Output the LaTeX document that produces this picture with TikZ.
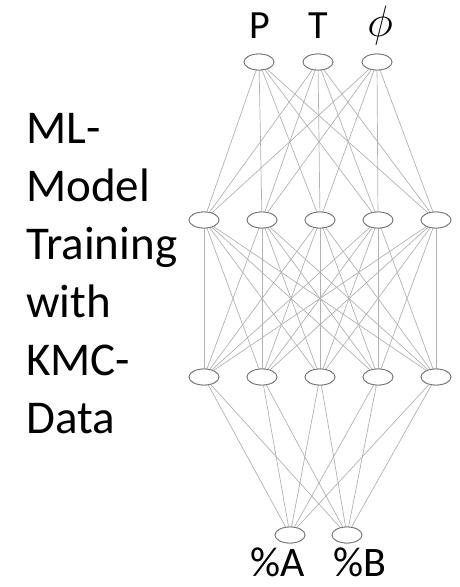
\RequirePackage{fix-cm}
\documentclass[tikz,border=0pt]{standalone}
\usepackage{fontspec}
\setmainfont{Carlito}
\usetikzlibrary{shapes.geometric}
\begin{document}
\begin{tikzpicture}[x=1pt,y=-1pt,
  neuron/.style={ellipse,draw=black!55,line width=0.8pt,fill=white,minimum width=30pt,minimum height=16pt,inner sep=0pt},
  synapse/.style={draw=black!30,line width=0.7pt},
  lbl/.style={font=\fontsize{40}{40}\selectfont,inner sep=0pt,anchor=base},
  side/.style={font=\fontsize{47}{58}\selectfont,inner sep=0pt,anchor=base west}]
\useasboundingbox (0,0) rectangle (460,587);

% input layer
\node[neuron] (i1) at (259,62) {};
\node[neuron] (i2) at (318,62) {};
\node[neuron] (i3) at (377,62) {};
% hidden layers
\foreach \k/\x in {1/204,2/262,3/320,4/378,5/436}{
  \node[neuron] (a\k) at (\x,220) {};
  \node[neuron] (b\k) at (\x,377) {};
}
% output layer
\node[neuron] (o1) at (290,535) {};
\node[neuron] (o2) at (347,535) {};

% connections between consecutive layers
\foreach \i in {1,2,3}{\foreach \j in {1,...,5}{\draw[synapse] (i\i) -- (a\j);}}
\foreach \i in {1,...,5}{\foreach \j in {1,...,5}{\draw[synapse] (a\i) -- (b\j);}}
\foreach \i in {1,...,5}{\foreach \j in {1,2}{\draw[synapse] (b\i) -- (o\j);}}

% redraw neurons above the lines
\foreach \n in {i1,i2,i3,a1,a2,a3,a4,a5,b1,b2,b3,b4,b5,o1,o2}{
  \node[neuron] at (\n.center) {};
}

% labels
\node[lbl] (lp) at (260,38) {P};
\node[lbl] (lt) at (318,38) {T};
\node[lbl,font=\fontsize{44}{44}\selectfont] (lphi) at (380,36) {$\phi$};
\node[lbl,font=\fontsize{42}{42}\selectfont,text depth=0pt] (la) at (278,576) {\%A};
\node[lbl,font=\fontsize{42}{42}\selectfont,text depth=0pt] (lb) at (360,576) {\%B};

\node[side] (s1) at (26,143) {ML-};
\node[side] (s2) at (26,201) {Model};
\node[side] (s3) at (26,259) {Training};
\node[side] (s4) at (26,317) {with};
\node[side] (s5) at (26,375) {KMC-};
\node[side] (s6) at (26,433) {Data};
\end{tikzpicture}
\end{document}
